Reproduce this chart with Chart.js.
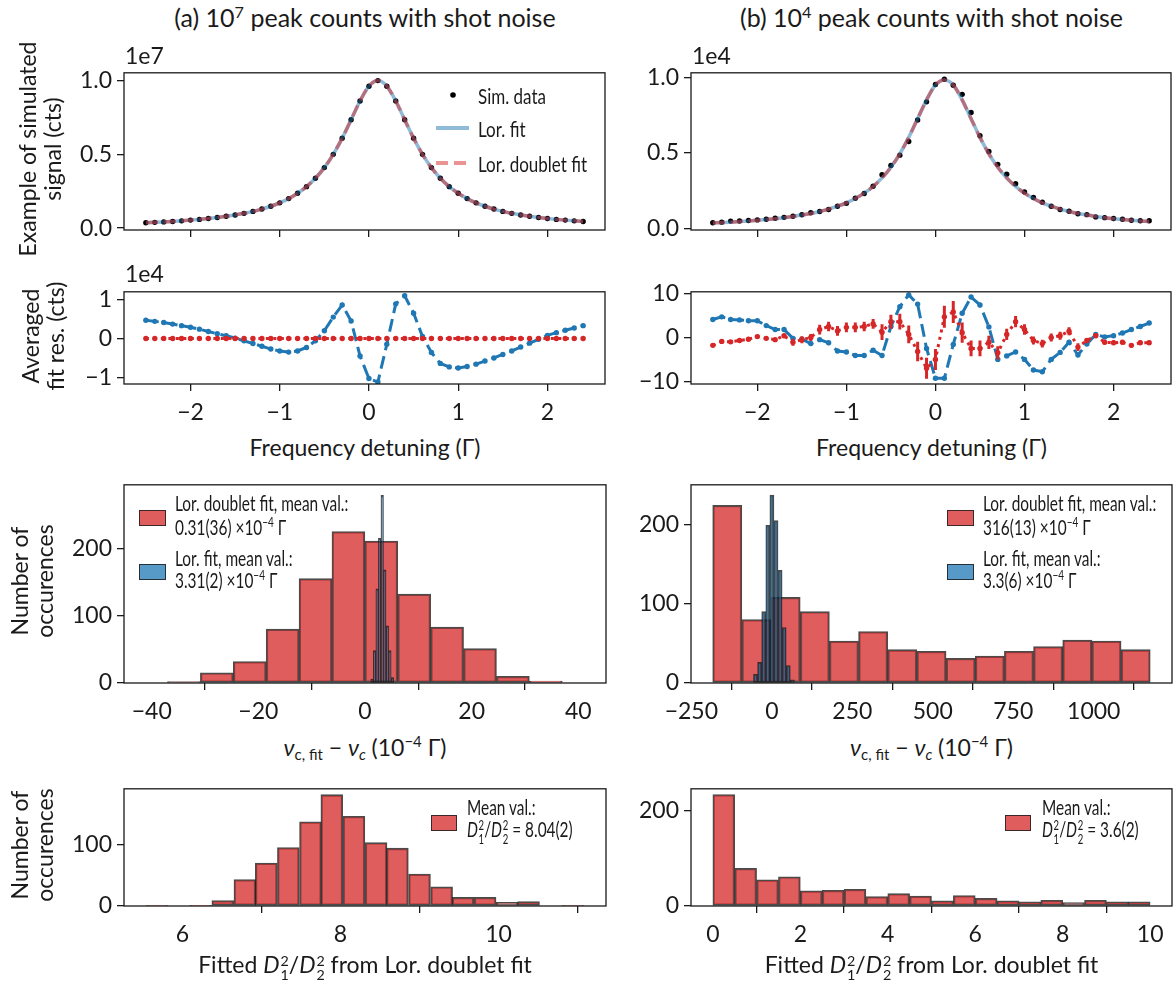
<!DOCTYPE html>
<html>
<head>
<meta charset="utf-8">
<script src="https://cdn.jsdelivr.net/npm/chart.js@4.4.0/dist/chart.umd.min.js"></script>
<style>
  body { margin: 0; background: #fff; }
  #fig { position: relative; width: 1175px; height: 988px; overflow: hidden; font-family: Lato, "Open Sans", sans-serif; color: #1a1a1a; }
  canvas { position: absolute; }
  .txt { position: absolute; white-space: nowrap; font-size: 23px; line-height: 1; transform: translate(-50%, -50%); }
  .lft { transform: translate(0, -50%); }
  .ylab { position: absolute; white-space: nowrap; font-size: 23px; line-height: 1.08; text-align: center; transform: translate(-50%, -50%) rotate(-90deg); }
  .leg { position: absolute; white-space: nowrap; font-size: 22px; line-height: 1; transform-origin: left center; transform: translate(0, -50%) scaleX(0.70); }
  .leg.wide { transform: translate(0, -50%) scaleX(0.81); }
  sup { font-size: 0.65em; vertical-align: 0.55em; line-height: 0; }
  sub { font-size: 0.65em; vertical-align: -0.3em; line-height: 0; }
  .ss { display: inline-block; font-size: 0.62em; line-height: 1; vertical-align: -0.5em; margin-left: 1px; }
  .ss > span { display: block; }
  .patch { position: absolute; border: 1.6px solid rgba(30,30,30,0.85); box-sizing: border-box; }
</style>
</head>
<body>
<div id="fig"></div>
<script>
// frequency detuning in units of Gamma
const detuning = [-2.5, -2.4, -2.3, -2.2, -2.1, -2.0, -1.9, -1.8, -1.7, -1.6, -1.5, -1.4, -1.3, -1.2, -1.1, -1.0, -0.9, -0.8, -0.7, -0.6,
  -0.5, -0.4, -0.3, -0.2, -0.1, 0.0, 0.1, 0.2, 0.3, 0.4, 0.5, 0.6, 0.7, 0.8, 0.9, 1.0, 1.1, 1.2, 1.3, 1.4,
  1.5, 1.6, 1.7, 1.8, 1.9, 2.0, 2.1, 2.2, 2.3, 2.4];

// (a) example signal, units of 1e7 cts (the fits overlap it)
const signalA = [0.036, 0.039, 0.042, 0.045, 0.049, 0.054, 0.059, 0.065, 0.072, 0.080, 0.089, 0.100, 0.113, 0.129, 0.148, 0.171, 0.200, 0.236, 0.281, 0.338,
  0.410, 0.500, 0.610, 0.735, 0.862, 0.962, 1.000, 0.962, 0.862, 0.735, 0.610, 0.500, 0.410, 0.338, 0.281, 0.236, 0.200, 0.171, 0.148, 0.129,
  0.113, 0.100, 0.089, 0.080, 0.072, 0.065, 0.059, 0.054, 0.049, 0.045];
const fitCurveA = signalA;

// (b) example signal, units of 1e4 cts
const signalB = [0.037, 0.041, 0.048, 0.049, 0.052, 0.056, 0.060, 0.067, 0.073, 0.080, 0.090, 0.104, 0.112, 0.125, 0.147, 0.166, 0.200, 0.231, 0.280, 0.356,
  0.417, 0.486, 0.577, 0.720, 0.840, 0.955, 0.990, 0.950, 0.890, 0.770, 0.615, 0.510, 0.425, 0.360, 0.296, 0.242, 0.205, 0.173, 0.147, 0.125,
  0.114, 0.097, 0.091, 0.076, 0.071, 0.065, 0.060, 0.054, 0.050, 0.050];
const fitCurveB = [0.036, 0.038, 0.041, 0.045, 0.049, 0.053, 0.058, 0.064, 0.071, 0.079, 0.088, 0.099, 0.112, 0.128, 0.147, 0.169, 0.198, 0.234, 0.278, 0.335,
  0.406, 0.495, 0.604, 0.728, 0.853, 0.952, 0.985, 0.952, 0.853, 0.728, 0.604, 0.495, 0.406, 0.335, 0.278, 0.234, 0.198, 0.169, 0.147, 0.128,
  0.112, 0.099, 0.088, 0.079, 0.071, 0.064, 0.058, 0.053, 0.049, 0.045];

// averaged fit residuals: (a) in 1e4 cts, (b) in cts
const residLorA = [0.47, 0.44, 0.41, 0.37, 0.33, 0.29, 0.24, 0.18, 0.12, 0.07, 0.01, -0.06, -0.13, -0.20, -0.27, -0.32, -0.35, -0.32, -0.23, -0.06,
  0.20, 0.55, 0.86, 0.45, -0.45, -1.03, -1.12, -0.15, 0.89, 1.10, 0.65, 0.05, -0.36, -0.64, -0.73, -0.76, -0.72, -0.66, -0.58, -0.50,
  -0.41, -0.32, -0.22, -0.12, -0.02, 0.08, 0.15, 0.21, 0.27, 0.33];
const residDoubletA = [0, 0, 0, 0, 0, 0, 0, 0, 0, 0, 0, 0, 0, 0, 0, 0, 0, 0, 0, 0,
  0, 0, 0, 0, 0, 0, 0, 0, 0, 0, 0, 0, 0, 0, 0, 0, 0, 0, 0, 0,
  0, 0, 0, 0, 0, 0, 0, 0, 0, 0];
const residLorB = [4.1, 4.7, 4.1, 4.0, 3.8, 3.8, 2.7, 1.8, 1.8, -0.2, -0.4, -1.4, -0.5, -1.2, -3.1, -3.3, -4.1, -4.1, -2.9, -4.1,
  2.5, 7.0, 9.7, 7.6, -2.5, -9.3, -9.3, -1.6, 5.5, 9.2, 7.4, 2.4, -5.0, -4.2, -3.3, -5.0, -7.4, -7.8, -5.0, -3.4,
  -1.1, -4.0, -1.5, 0.7, 0.1, 0.4, 1.0, 1.8, 2.5, 3.3];
const residDoubletB = [-1.8, -0.9, -1.0, -0.7, -0.4, 0.2, -0.2, -0.5, 0.4, -1.1, -0.5, 0.0, 1.8, 2.5, 1.5, 2.3, 2.3, 2.5, 3.1, 1.2,
  3.6, 3.6, 0.7, -3.2, -7.0, -5.0, 4.7, 5.8, 1.1, -2.5, -2.5, -1.1, -3.5, 0.7, 3.6, 1.8, -0.7, -1.4, 0.0, 0.4,
  1.4, -2.2, -0.7, 0.4, -1.1, -1.2, -1.1, -1.8, -1.2, -1.2];
const errDoubletB = [0.4, 0.4, 0.4, 0.4, 0.4, 0.4, 0.4, 0.4, 0.4, 0.8, 0.8, 0.8, 1.1, 1.1, 1.1, 1.1, 1.1, 1.1, 1.1, 1.8,
  1.6, 1.8, 2.0, 2.2, 2.4, 2.4, 2.5, 2.5, 2.3, 1.8, 1.8, 1.5, 1.5, 1.3, 1.3, 1.2, 0.9, 0.9, 0.9, 0.9,
  0.9, 0.9, 0.5, 0.5, 0.5, 0.5, 0.5, 0.5, 0.5, 0.5];

// centre-frequency histograms (1e-4 Gamma)
const shiftCentersDoubletA = [-33.96, -27.79, -21.62, -15.45, -9.28, -3.11, 3.06, 9.23, 15.40, 21.57, 27.74, 33.91];
const shiftCountsDoubletA = [2, 15, 32, 80, 155, 225, 211, 132, 83, 51, 10, 3];
const shiftCentersLorA = [1.31, 1.79, 2.27, 2.75, 3.23, 3.71, 4.19, 4.67, 5.15];
const shiftCountsLorA = [6, 48, 140, 215, 279, 168, 85, 48, 8];
const shiftCentersDoubletB = [-138.3, -47.7, 42.9, 133.5, 224.1, 314.7, 405.3, 495.9, 586.5, 677.1, 767.7, 858.3, 948.9, 1039.5, 1130.1];
const shiftCountsDoubletB = [224, 80, 108, 90, 53, 65, 42, 40, 31, 34, 40, 46, 54, 53, 42];
const shiftCentersLorB = [-50.5, -37.8, -25.1, -12.4, 0.3, 13.0, 25.7, 38.4, 51.1, 63.8];
const shiftCountsLorB = [11, 26, 90, 199, 237, 205, 142, 70, 22, 4];

// fitted D1^2/D2^2 histograms
const ratioCentersA = [5.68, 5.96, 6.23, 6.51, 6.79, 7.06, 7.34, 7.62, 7.89, 8.17, 8.45, 8.72, 9.00, 9.28, 9.55, 9.83, 10.11, 10.38, 10.66, 10.94];
const ratioCountsA = [1, 0, 1, 9, 43, 70, 95, 137, 181, 146, 103, 94, 52, 31, 14, 14, 6, 7, 0, 1];
const ratioCentersB = [0.25, 0.75, 1.25, 1.75, 2.25, 2.75, 3.25, 3.75, 4.25, 4.75, 5.25, 5.75, 6.25, 6.75, 7.25, 7.75, 8.25, 8.75, 9.25, 9.75];
const ratioCountsB = [234, 79, 55, 61, 32, 33, 35, 20, 26, 21, 11, 22, 16, 11, 9, 12, 7, 12, 9, 9];

// tick labels
const detuningTicks = [-2, -1, 0, 1, 2];
const signalTicks = [0, 0.5, 1.0];
const residTicksA = [-1, 0, 1];
const residTicksB = [-10, 0, 10];
const shiftTicksA = [-40, -20, 0, 20, 40];
const shiftTicksB = [-250, 0, 250, 500, 750, 1000];
const countTicks = [0, 100, 200];
const ratioTicksA = [6, 8, 10];
const ratioTicksB = [0, 2, 4, 6, 8, 10];
const ratioCountTicksA = [0, 100];
const ratioCountTicksB = [0, 200];

const FONT = 'Lato, "Open Sans", sans-serif';
const INK = '#1a1a1a';
const RED = '#d62728', BLUE = '#1f77b4';
const RED_FILL = 'rgba(214,39,40,0.75)', BLUE_FILL = 'rgba(31,119,180,0.75)';
const COLS = { a: [124, 606], b: [691, 1172] };
const ROWS = { signal: [68, 230], resid: [287, 384], shift: [480, 683], ratio: [784, 906] };
const PAD = { left: 80, top: 14, right: 3, bottom: 46 };

Chart.defaults.font.family = FONT;
const fig = document.getElementById('fig');

const frame = {
  id: 'frame',
  afterDraw(chart) {
    const { ctx, chartArea: a } = chart;
    ctx.save();
    ctx.strokeStyle = INK;
    ctx.lineWidth = 1.3;
    ctx.strokeRect(a.left, a.top, a.right - a.left, a.bottom - a.top);
    ctx.restore();
  }
};
const errorBars = {
  id: 'errorBars',
  afterDatasetDraw(chart, args) {
    const ds = chart.data.datasets[args.index];
    if (!ds.errors) return;
    const ctx = chart.ctx, sx = chart.scales.x, sy = chart.scales.y;
    ctx.save();
    ctx.strokeStyle = ds.borderColor;
    ctx.lineWidth = 3;
    ctx.beginPath();
    ds.data.forEach((p, i) => {
      const px = sx.getPixelForValue(p.x);
      ctx.moveTo(px, sy.getPixelForValue(p.y - ds.errors[i]));
      ctx.lineTo(px, sy.getPixelForValue(p.y + ds.errors[i]));
    });
    ctx.stroke();
    ctx.restore();
  }
};
Chart.register(frame, errorBars);

function pts(xs, ys) { return xs.map((x, i) => ({ x: x, y: ys[i] })); }
function minus(v) { return String(v).replace('-', '\u2212'); }

function placeCanvas(col, row) {
  const [x0, x1] = COLS[col], [y0, y1] = ROWS[row];
  const c = document.createElement('canvas');
  c.width = x1 - x0 + PAD.left + PAD.right;
  c.height = y1 - y0 + PAD.top + PAD.bottom;
  c.style.left = (x0 - PAD.left) + 'px';
  c.style.top = (y0 - PAD.top) + 'px';
  c.style.width = c.width + 'px';
  c.style.height = c.height + 'px';
  fig.appendChild(c);
  return c;
}

function axis(dir, lim, ticks, showLabels, fmt) {
  return {
    type: 'linear', min: lim[0], max: lim[1], offset: false,
    afterBuildTicks: ax => { ax.ticks = ticks.map(v => ({ value: v })); },
    afterFit: ax => { if (dir === 'x') ax.height = PAD.bottom; else ax.width = PAD.left; },
    grid: { drawOnChartArea: false, drawTicks: true, tickLength: 7, color: INK, lineWidth: 1.3 },
    border: { display: false },
    ticks: {
      display: showLabels, autoSkip: false, maxRotation: 0, padding: dir === 'x' ? 8 : 5,
      color: INK, font: { family: FONT, size: 23 }, callback: fmt || minus
    }
  };
}

function makeChart(col, row, datasets, xLim, xTicks, xLabels, yLim, yTicks, yFmt) {
  const chart = new Chart(placeCanvas(col, row), {
    type: 'line',
    data: { datasets: datasets },
    options: {
      responsive: false, animation: false, devicePixelRatio: 1,
      layout: { padding: { left: 0, top: PAD.top, right: PAD.right, bottom: 0 } },
      plugins: { legend: { display: false }, tooltip: { enabled: false } },
      scales: { x: axis('x', xLim, xTicks, xLabels), y: axis('y', yLim, yTicks, true, yFmt) }
    }
  });
  // histogram bars get the width of one bin, measured on the chart's own x scale
  const sx = chart.scales.x;
  let bars = false;
  chart.data.datasets.forEach(ds => {
    if (ds.binWidth) {
      ds.barThickness = Math.abs(sx.getPixelForValue(ds.binWidth) - sx.getPixelForValue(0));
      bars = true;
    }
  });
  if (bars) chart.update('none');
  return chart;
}

function signalSets(sim, fit) {
  return [
    { label: 'Lor. doublet fit', data: pts(detuning, fit), borderColor: 'rgba(214,39,40,0.5)', borderWidth: 3.5,
      borderDash: [12, 6], pointRadius: 0, cubicInterpolationMode: 'monotone', order: 0 },
    { label: 'Lor. fit', data: pts(detuning, fit), borderColor: 'rgba(31,119,180,0.5)', borderWidth: 3.5,
      pointRadius: 0, cubicInterpolationMode: 'monotone', order: 1 },
    { label: 'Sim. data', data: pts(detuning, sim), showLine: false, pointRadius: 2.7,
      pointBackgroundColor: '#000', pointBorderWidth: 0, order: 2 }
  ];
}
function residSets(lor, doublet, errs) {
  return [
    { label: 'Lor. doublet fit', data: pts(detuning, doublet), borderColor: RED, borderWidth: 3, borderDash: [3, 4.5],
      pointRadius: 2.7, pointBackgroundColor: RED, pointBorderWidth: 0, errors: errs, order: 0 },
    { label: 'Lor. fit', data: pts(detuning, lor), borderColor: BLUE, borderWidth: 3, borderDash: [13, 6],
      pointRadius: 2.7, pointBackgroundColor: BLUE, pointBorderWidth: 0, order: 1 }
  ];
}
function histSet(label, centers, counts, fill, width, order) {
  return { type: 'bar', label: label, data: pts(centers, counts), backgroundColor: fill,
    borderColor: 'rgba(30,30,30,0.8)', borderWidth: 1.6, borderSkipped: false, grouped: false,
    binWidth: width, order: order };
}

const detLim = [-2.745, 2.645];
makeChart('a', 'signal', signalSets(signalA, fitCurveA), detLim, detuningTicks, false, [-0.013, 1.053], signalTicks, v => v.toFixed(1));
makeChart('b', 'signal', signalSets(signalB, fitCurveB), detLim, detuningTicks, false, [-0.011, 1.033], signalTicks, v => v.toFixed(1));
makeChart('a', 'resid', residSets(residLorA, residDoubletA, null), detLim, detuningTicks, true, [-1.17, 1.2], residTicksA);
makeChart('b', 'resid', residSets(residLorB, residDoubletB, errDoubletB), detLim, detuningTicks, true, [-10.6, 10.4], residTicksB);
makeChart('a', 'shift', [
  histSet('Lor. fit', shiftCentersLorA, shiftCountsLorA, BLUE_FILL, 0.48, 0),
  histSet('Lor. doublet fit', shiftCentersDoubletA, shiftCountsDoubletA, RED_FILL, 6.17, 1)
], [-45.2, 45.2], shiftTicksA, true, [0, 294.5], countTicks);
makeChart('b', 'shift', [
  histSet('Lor. fit', shiftCentersLorB, shiftCountsLorB, BLUE_FILL, 12.7, 0),
  histSet('Lor. doublet fit', shiftCentersDoubletB, shiftCountsDoubletB, RED_FILL, 90.6, 1)
], [-251, 1243], shiftTicksB, true, [0, 250], countTicks);
makeChart('a', 'ratio', [histSet('Lor. doublet fit', ratioCentersA, ratioCountsA, RED_FILL, 0.2765, 0)],
  [5.26, 11.36], ratioTicksA, true, [0, 190.6], ratioCountTicksA);
makeChart('b', 'ratio', [histSet('Lor. doublet fit', ratioCentersB, ratioCountsB, RED_FILL, 0.5, 0)],
  [-0.5, 10.5], ratioTicksB, true, [0, 246], ratioCountTicksB);

// ---- text, labels and legends ----
function addText(cls, x, y, html, size) {
  const d = document.createElement('div');
  d.className = cls;
  d.style.left = x + 'px';
  d.style.top = y + 'px';
  if (size) d.style.fontSize = size + 'px';
  d.innerHTML = html;
  fig.appendChild(d);
  return d;
}
function patch(x, y, w, h, fill) {
  const d = document.createElement('div');
  d.className = 'patch';
  Object.assign(d.style, { left: x + 'px', top: y + 'px', width: w + 'px', height: h + 'px', background: fill });
  fig.appendChild(d);
}
const midA = (COLS.a[0] + COLS.a[1]) / 2, midB = (COLS.b[0] + COLS.b[1]) / 2;

addText('txt', midA, 17, '(a) 10<sup>7</sup> peak counts with shot noise', 25);
addText('txt', midB, 17, '(b) 10<sup>4</sup> peak counts with shot noise', 25);
addText('txt lft', 125, 55, '1e7');
addText('txt lft', 692, 55, '1e4');
addText('txt lft', 125, 273, '1e4');

addText('ylab', 40, 149, 'Example of simulated<br>signal (cts)');
addText('ylab', 43, 336, 'Averaged<br>fit res. (cts)');
addText('ylab', 32, 581, 'Number of<br>occurences');
addText('ylab', 32, 845, 'Number of<br>occurences');

const nuLabel = '<i>\u03bd</i><sub>c, fit</sub> \u2212 <i>\u03bd<sub>c</sub></i> (10<sup>\u22124</sup> \u0393)';
const dRatio = '<i>D</i><span class="ss"><span>2</span><span>1</span></span>/<i>D</i><span class="ss"><span>2</span><span>2</span></span>';
[midA, midB].forEach(m => {
  addText('txt', m, 447, 'Frequency detuning (\u0393)');
  addText('txt', m, 747, nuLabel);
  addText('txt', m, 968, 'Fitted ' + dRatio + ' from Lor. doublet fit');
});

// legend of the signal panel (a)
const svgNS = 'http://www.w3.org/2000/svg';
const sv = document.createElementNS(svgNS, 'svg');
sv.setAttribute('width', 40); sv.setAttribute('height', 90);
sv.style.position = 'absolute'; sv.style.left = '433px'; sv.style.top = '85px';
sv.innerHTML = '<circle cx="20" cy="10" r="2.8" fill="#000"/>' +
  '<line x1="3" y1="43" x2="36" y2="43" stroke="rgba(31,119,180,0.5)" stroke-width="4"/>' +
  '<line x1="3" y1="78" x2="36" y2="78" stroke="rgba(214,39,40,0.5)" stroke-width="4" stroke-dasharray="12,6"/>';
fig.appendChild(sv);
addText('leg wide', 478, 95, 'Sim. data', 21);
addText('leg wide', 478, 128, 'Lor. fit', 21);
addText('leg wide', 478, 163, 'Lor. doublet fit', 21);

// legends of the histograms
function shiftLegend(px, tx, doubletVal, lorVal) {
  patch(px, 510, 27, 16, RED_FILL);
  patch(px, 564, 27, 16, BLUE_FILL);
  addText('leg', tx, 503, 'Lor. doublet fit, mean val.:');
  addText('leg', tx, 527, doubletVal + ' \u00d710<sup>\u22124</sup> \u0393');
  addText('leg', tx, 558, 'Lor. fit, mean val.:');
  addText('leg', tx, 580, lorVal + ' \u00d710<sup>\u22124</sup> \u0393');
}
shiftLegend(139, 175, '0.31(36)', '3.31(2)');
shiftLegend(947, 983, '316(13)', '3.3(6)');

function ratioLegend(px, tx, val) {
  patch(px, 815, 26, 16, RED_FILL);
  addText('leg', tx, 807, 'Mean val.:');
  addText('leg', tx, 832, dRatio + ' = ' + val);
}
ratioLegend(431, 467, '8.04(2)');
ratioLegend(1005, 1042, '3.6(2)');
</script>
</body>
</html>
